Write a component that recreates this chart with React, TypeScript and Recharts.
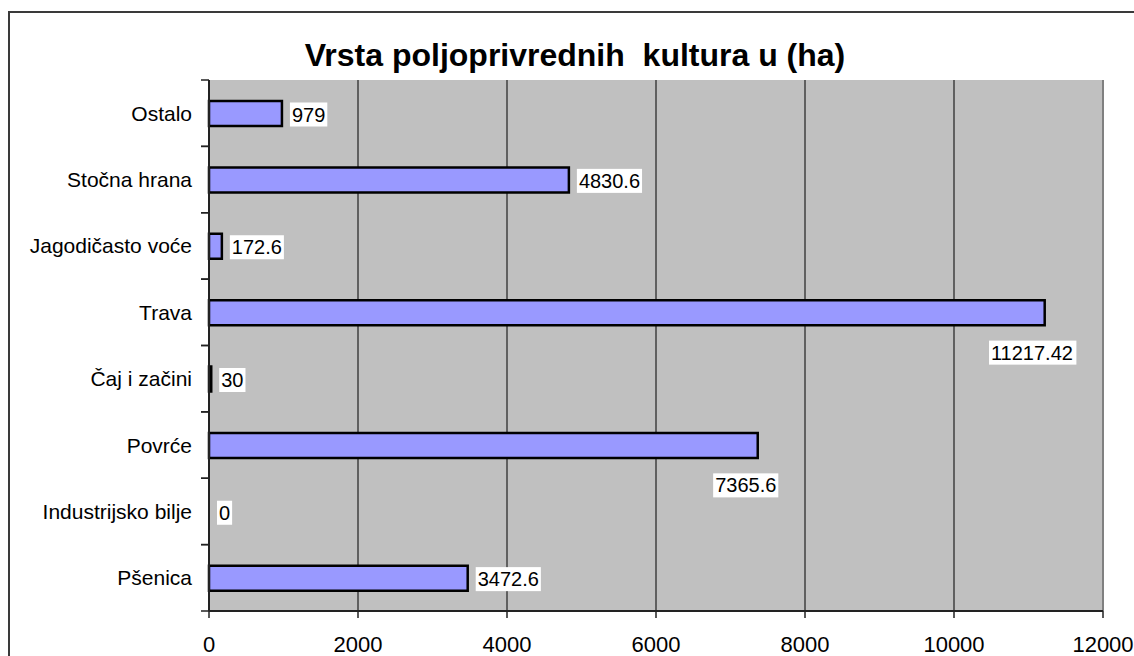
import React from 'react';
import { BarChart, Bar, XAxis, YAxis, CartesianGrid, LabelList, ReferenceLine, Rectangle } from 'recharts';

// Excel order: bottom to top
const categories = ['Pšenica', 'Industrijsko bilje', 'Povrće', 'Čaj i začini', 'Trava', 'Jagodičasto voće', 'Stočna hrana', 'Ostalo'];
const values = [3472.6, 0, 7365.6, 30, 11217.42, 172.6, 4830.6, 979];
const xTicks = [0, 2000, 4000, 6000, 8000, 10000, 12000];
const title = 'Vrsta poljoprivrednih\u00a0 kultura u (ha)';

const data = categories.map((c, i) => ({ name: c, value: values[i] }));

const FONT = 'Arial, "Liberation Sans", Helvetica, sans-serif';

const measure = (s: string, fs: number) => {
  let w = 0;
  for (const ch of s) w += ch === '.' ? 0.278 : 0.556;
  return w * fs;
};

const YTick = (props: any) => {
  const { x, y, payload } = props;
  const off = payload && typeof payload.offset === 'number' ? payload.offset : 0;
  const axisX = x + 9 + 8;
  return (
    <g>
      <line x1={axisX - 8} x2={axisX} y1={y - off} y2={y - off} stroke="#222" strokeWidth={1.5} />
      <line x1={axisX - 8} x2={axisX} y1={y + off} y2={y + off} stroke="#222" strokeWidth={1.5} />
      <text x={x} y={y + 7.5} textAnchor="end" fontSize={21} fontFamily={FONT} fill="#000">
        {payload.value}
      </text>
    </g>
  );
};

const BarShape = (props: any) => {
  const v = props.payload ? Number(props.payload.value) : Number(props.value);
  if (!v) return <g />;
  return <Rectangle {...props} />;
};

const renderLabel = (props: any) => {
  const { x, y, width, height, value } = props;
  const v = Number(value);
  const text = String(value);
  const fs = 20;
  const tw = measure(text, fs);
  const w = v === 0 ? 0 : width;
  let left: number;
  let cy: number;
  if (v > 5000) {
    const cx = x + w - 12;
    left = cx - tw / 2;
    cy = y + height / 2 + 40;
  } else {
    left = x + w + 10;
    cy = y + height / 2 + 1;
  }
  return (
    <g>
      <rect x={left - 2} y={cy - 12} width={tw + 4} height={24} fill="#fff" />
      <text x={left} y={cy + 7} fontSize={fs} fontFamily={FONT} fill="#000">
        {text}
      </text>
    </g>
  );
};

export default function App() {
  return (
    <div style={{ position: 'absolute', left: 0, top: 0, width: 1134, height: 656, overflow: 'hidden', background: '#fff' }}>
      <div
        style={{
          position: 'absolute',
          left: 8,
          top: 11,
          width: 1300,
          height: 900,
          borderLeft: '2px solid #3a3a3a',
          borderTop: '2px solid #3a3a3a',
        }}
      />
      <div
        style={{
          position: 'absolute',
          left: 575,
          top: 39,
          transform: 'translateX(-50%)',
          whiteSpace: 'pre',
          fontFamily: FONT,
          fontWeight: 'bold',
          fontSize: 32,
          lineHeight: '32px',
          color: '#000',
        }}
      >
        {title}
      </div>
      <div style={{ position: 'absolute', left: 0, top: 0 }}>
        <BarChart
          width={1134}
          height={656}
          data={data}
          layout="vertical"
          margin={{ top: 80, right: 31, left: 0, bottom: 0 }}
          barSize={25}
        >
          <CartesianGrid horizontal={false} vertical={true} stroke="#000" strokeWidth={1} fill="#C0C0C0" />
          <XAxis
            type="number"
            domain={[0, 12000]}
            ticks={xTicks}
            interval={0}
            height={45}
            tickSize={7}
            tickMargin={18}
            axisLine={{ stroke: '#222', strokeWidth: 2 }}
            tickLine={{ stroke: '#222', strokeWidth: 1.5 }}
            tick={{ fontSize: 22, fontFamily: FONT, fill: '#000' }}
          />
          <XAxis
            xAxisId="top"
            orientation="top"
            type="number"
            domain={[0, 12000]}
            height={0}
            tick={false}
            tickLine={false}
            axisLine={{ stroke: '#808080', strokeWidth: 2 }}
          />
          <YAxis
            type="category"
            dataKey="name"
            reversed
            width={209}
            tickSize={8}
            tickMargin={9}
            interval={0}
            tickLine={false}
            axisLine={{ stroke: '#222', strokeWidth: 2 }}
            tick={<YTick />}
          />
          <ReferenceLine x={12000} stroke="#808080" strokeWidth={2} />
          <Bar
            dataKey="value"
            fill="#9999FF"
            stroke="#000"
            strokeWidth={2.5}
            minPointSize={1}
            shape={<BarShape />}
            isAnimationActive={false}
          >
            <LabelList dataKey="value" content={renderLabel} />
          </Bar>
        </BarChart>
      </div>
    </div>
  );
}
